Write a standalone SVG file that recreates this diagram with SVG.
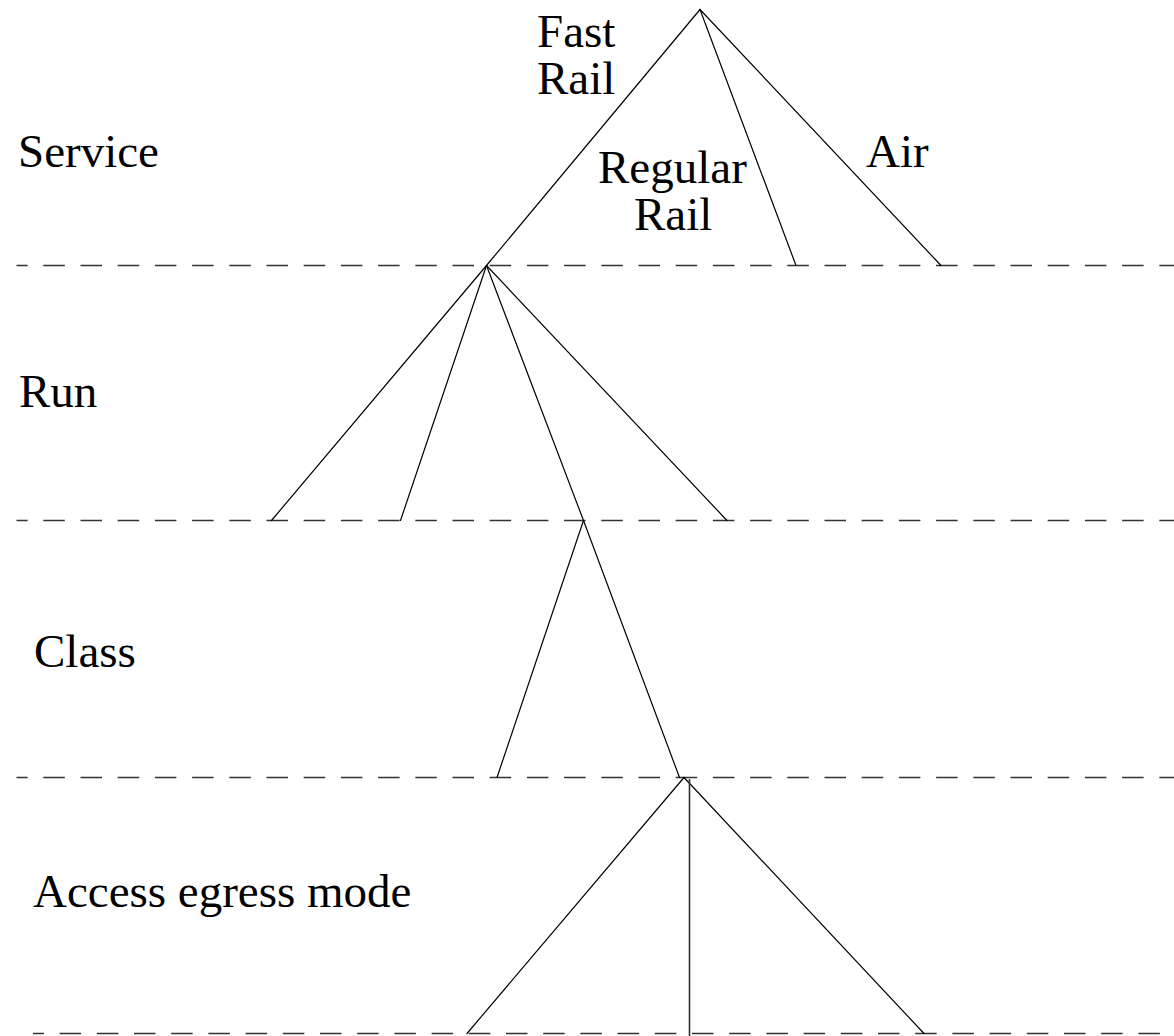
<svg xmlns="http://www.w3.org/2000/svg" width="1174" height="1036" viewBox="0 0 1174 1036">
<style>
text { font-family: "Liberation Serif", "Times New Roman", serif; font-size: 47px; fill: #000; }
.dash { stroke: #333; stroke-width: 1.5; stroke-dasharray: 21.5 15.7; fill: none; }
.edge { stroke: #000; stroke-width: 1.2; fill: none; stroke-linecap: round; }
</style>
<rect width="1174" height="1036" fill="#fff"/>
<g id="levels">
  <line class="dash" x1="16.5" y1="265.5" x2="1174" y2="265.5" stroke-dashoffset="10.4"/>
  <line class="dash" x1="16.5" y1="520.5" x2="1174" y2="520.5" stroke-dashoffset="10.4"/>
  <line class="dash" x1="16.5" y1="777.5" x2="1174" y2="777.5" stroke-dashoffset="10.4"/>
  <line class="dash" x1="33" y1="1033.5" x2="1174" y2="1033.5" stroke-dashoffset="10.6"/>
</g>
<g id="level-labels">
  <text id="label-service" x="18" y="167">Service</text>
  <text id="label-run" x="19" y="407">Run</text>
  <text id="label-class" x="34" y="667">Class</text>
  <text id="label-access" x="33" y="907">Access egress mode</text>
</g>
<g id="connectors">
  <line class="edge" x1="700" y1="9.5" x2="486.5" y2="265.5"/>
  <line class="edge" x1="700" y1="9.5" x2="796" y2="265.5"/>
  <line class="edge" x1="700" y1="9.5" x2="941" y2="265.5"/>
  <line class="edge" x1="486.5" y1="265.5" x2="271.5" y2="520.5"/>
  <line class="edge" x1="486.5" y1="265.5" x2="400.5" y2="520.5"/>
  <line class="edge" x1="486.5" y1="265.5" x2="583.5" y2="520.5"/>
  <line class="edge" x1="486.5" y1="265.5" x2="727" y2="520.5"/>
  <line class="edge" x1="583.5" y1="520.5" x2="497" y2="777.5"/>
  <line class="edge" x1="583.5" y1="520.5" x2="679.5" y2="777.5"/>
  <line class="edge" x1="684" y1="777.5" x2="467" y2="1033.5"/>
  <line class="edge" x1="684" y1="777.5" x2="924" y2="1033.5"/>
  <line x1="689.5" y1="779" x2="689.5" y2="1036" stroke="#333" stroke-width="1.6"/>
</g>
<g id="node-fast-rail"><text x="537" y="47">Fast</text><text x="537" y="94">Rail</text></g>
<g id="node-regular-rail"><text x="598" y="183">Regular</text><text x="634" y="230">Rail</text></g>
<g id="node-air"><text x="866" y="167">Air</text></g>
</svg>
